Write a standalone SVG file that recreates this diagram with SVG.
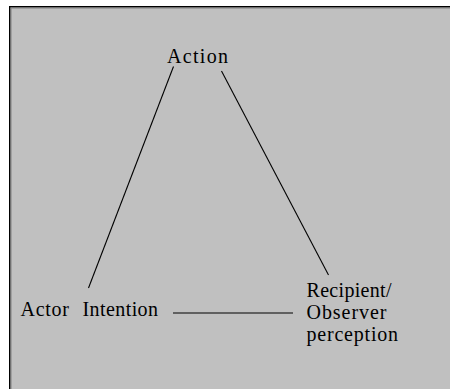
<svg xmlns="http://www.w3.org/2000/svg" width="450" height="389" viewBox="0 0 450 389">
<style>
.t{font-family:"Liberation Serif","Times New Roman",serif;font-size:20px;fill:#000}
.c{stroke:#000;stroke-width:1.1;fill:none}
</style>
<rect x="0" y="0" width="450" height="389" fill="#fff"/>
<rect x="9" y="6" width="441" height="383" fill="#c0c0c0"/>
<rect x="9" y="6" width="441" height="1.5" fill="#000"/>
<rect x="9" y="6" width="1.5" height="383" fill="#000"/>
<rect x="10.5" y="7.5" width="439.5" height="1" fill="#808080"/>
<rect x="10.5" y="7.5" width="1" height="381.5" fill="#808080"/>
<g id="connectors">
<line class="c" x1="173.5" y1="66.5" x2="88.5" y2="288"/>
<line class="c" x1="221.5" y1="71" x2="328.5" y2="275"/>
<line class="c" x1="173" y1="313" x2="293" y2="313"/>
</g>
<g id="action"><text class="t" x="167" y="63" textLength="61" lengthAdjust="spacing">Action</text></g>
<g id="actor-intention">
<text class="t" x="20.5" y="315.5" textLength="48.5" lengthAdjust="spacing">Actor</text>
<text class="t" x="82.5" y="315.5" textLength="75.5" lengthAdjust="spacing">Intention</text>
</g>
<g id="recipient">
<text class="t" x="306.5" y="297" textLength="85" lengthAdjust="spacing">Recipient/</text>
<text class="t" x="306.5" y="319" textLength="80" lengthAdjust="spacing">Observer</text>
<text class="t" x="306.5" y="341" textLength="91.5" lengthAdjust="spacing">perception</text>
</g>
</svg>
